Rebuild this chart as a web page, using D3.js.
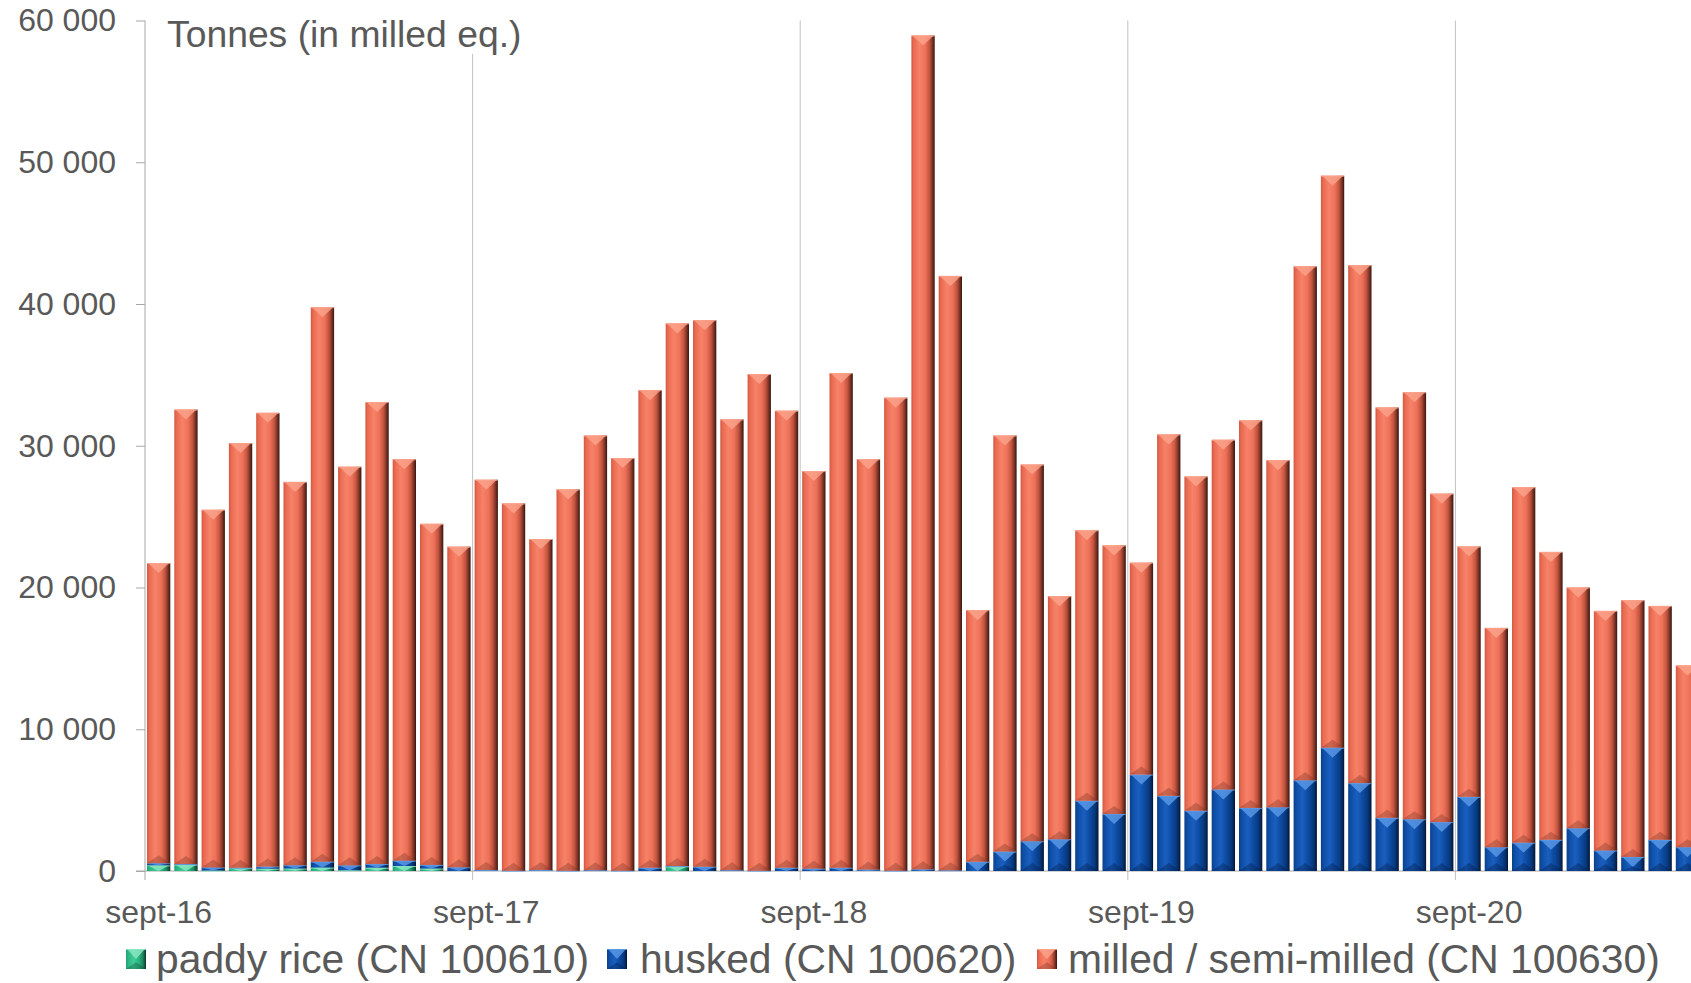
<!DOCTYPE html>
<html><head><meta charset="utf-8">
<script src="https://cdn.jsdelivr.net/npm/d3@7"></script>
<style>html,body{margin:0;padding:0;background:#fff;overflow:hidden}</style>
</head><body>
<svg id="chart" width="1691" height="983"></svg>
<script>
const months = [
  "sept-16","oct-16","nov-16","déc-16",
  "janv-17","févr-17","mars-17","avr-17","mai-17","juin-17","juil-17","août-17","sept-17","oct-17","nov-17","déc-17",
  "janv-18","févr-18","mars-18","avr-18","mai-18","juin-18","juil-18","août-18","sept-18","oct-18","nov-18","déc-18",
  "janv-19","févr-19","mars-19","avr-19","mai-19","juin-19","juil-19","août-19","sept-19","oct-19","nov-19","déc-19",
  "janv-20","févr-20","mars-20","avr-20","mai-20","juin-20","juil-20","août-20","sept-20","oct-20","nov-20","déc-20",
  "janv-21","févr-21","mars-21","avr-21","mai-21"
];
const tickLabels = ["sept-16","sept-17","sept-18","sept-19","sept-20"];
const yTicks = [0,10000,20000,30000,40000,50000,60000];

const paddy = [400,450,30,200,160,170,240,50,230,350,170,0,
  0,0,0,0,0,0,0,330,0,0,0,0,
  0,0,0,0,0,0,0,0,0,0,0,0,
  0,0,0,0,0,0,0,0,0,0,0,0,
  0,0,0,0,0,0,0,0,0];
const husked = [150,40,220,30,150,240,420,350,260,380,260,260,
  70,20,70,20,60,20,230,20,300,60,20,230,
  165,230,100,20,120,50,650,1370,2100,2240,4950,4020,
  6800,5300,4250,5750,4450,4500,6400,8700,6200,3750,3650,3450,
  5230,1680,2000,2200,3020,1450,990,2200,1680];
const milled = [21170,32060,25230,29960,32010,27040,39110,28120,32590,28320,24060,22620,
  27530,25910,23350,26900,30660,29110,33690,38280,38560,31800,35040,32240,
  28045,34900,28950,33370,58820,41930,17750,29350,26570,17150,19080,18950,
  14950,25500,23580,24670,27340,24480,36260,40350,36540,28950,30120,23170,
  17660,15470,25070,20310,16980,16900,18110,16500,12820];

const seriesKeys = ["paddy","husked","milled"];
const seriesNames = ["paddy rice (CN 100610)","husked (CN 100620)","milled / semi-milled (CN 100630)"];
const yTitle = "Tonnes (in milled eq.)";

const table = months.map((m,i)=>({month:m, paddy:paddy[i], husked:husked[i], milled:milled[i]}));

const svg = d3.select("#chart");
const W = 1691, H = 983;
const axisX = 145, baseY = 871, topY = 20.5;
const step = 27.3;
const x = d3.scaleBand().domain(months).range([axisX, axisX + step*months.length]).paddingInner(0.146).paddingOuter(0.073);
const y = d3.scaleLinear().domain([0,60000]).range([baseY, topY]);

const textCol = "#595959";
const font = "'Liberation Sans', Arial, sans-serif";

// gradients
const defs = svg.append("defs");
const pal = {
  milled: {stops:[[0,"#cf5842"],[0.1,"#ea6a51"],[0.35,"#f68268"],[0.6,"#ee7158"],[0.78,"#c0543f"],[0.9,"#7c3325"],[1,"#37160f"]], cap:"#fba48c", bot:"#7c3325"},
  husked: {stops:[[0,"#0a3f88"],[0.12,"#0e4ea6"],[0.38,"#1a5fbf"],[0.62,"#0d4ba2"],[0.82,"#083a80"],[0.93,"#05275a"],[1,"#021330"]], cap:"#5d9be8", bot:"#021a45"},
  paddy:  {stops:[[0,"#20a070"],[0.12,"#2bb683"],[0.38,"#40cc98"],[0.62,"#2bb683"],[0.82,"#1e8c63"],[0.93,"#125c41"],[1,"#083322"]], cap:"#8ee8c4", bot:"#0d4a33"}
};
seriesKeys.forEach(k=>{
  const g = defs.append("linearGradient").attr("id","g-"+k).attr("x1",0).attr("x2",1).attr("y1",0).attr("y2",0);
  pal[k].stops.forEach(s=>g.append("stop").attr("offset",s[0]).attr("stop-color",s[1]));
});

// y axis
const loc = d3.formatLocale({decimal:",", thousands:" ", grouping:[3], currency:["","€"]});
const fmt = loc.format(",");
const yAxis = svg.append("g").attr("transform",`translate(${axisX},0)`)
  .call(d3.axisLeft(y).tickValues(yTicks).tickSize(9).tickPadding(20).tickFormat(fmt));
yAxis.select(".domain").remove();
yAxis.selectAll(".tick line").attr("stroke","#a6a6a6");
yAxis.selectAll(".tick text").attr("fill",textCol).style("font-family",font).style("font-size","32px");
svg.append("line").attr("x1",axisX).attr("x2",axisX).attr("y1",topY).attr("y2",baseY+9).attr("stroke","#a6a6a6");

// vertical gridlines at September boundaries
const gap = (x.step()-x.bandwidth())/2;
svg.append("g").selectAll("line").data(tickLabels.slice(1)).join("line")
  .attr("x1",d=>x(d)-gap).attr("x2",d=>x(d)-gap)
  .attr("y1",topY).attr("y2",baseY+9)
  .attr("stroke","#c0c0c0").attr("stroke-width",1);

// x axis labels
const xAxis = svg.append("g").attr("transform",`translate(0,${baseY})`)
  .call(d3.axisBottom(x).tickValues(tickLabels).tickSize(0).tickPadding(52));
xAxis.select(".domain").remove();
xAxis.selectAll(".tick text").attr("fill",textCol).style("font-family",font).style("font-size","32px").attr("dy",0);
svg.append("line").attr("x1",axisX-9).attr("x2",W).attr("y1",baseY).attr("y2",baseY).attr("stroke","#a6a6a6");

// title
svg.append("rect").attr("x",158).attr("y",0).attr("width",380).attr("height",54).attr("fill","#fff");
svg.append("text").attr("x",167).attr("y",47).text(yTitle)
  .attr("fill",textCol).style("font-family",font).style("font-size","37.3px");

// bars
const stacked = d3.stack().keys(seriesKeys)(table);
function drawSeg(g, k, x0, w, yTop, h){
  if (h <= 0) return;
  g.append("rect").attr("x",x0).attr("y",yTop).attr("width",w).attr("height",h).attr("fill",`url(#g-${k})`);
  const ch = Math.min(10, h);
  g.append("polygon").attr("points",`${x0+1},${yTop} ${x0+w-1},${yTop} ${x0+w/2},${yTop+ch}`)
    .attr("fill",pal[k].cap).attr("opacity",0.8);
  g.append("line").attr("x1",x0).attr("x2",x0+w).attr("y1",yTop+0.5).attr("y2",yTop+0.5)
    .attr("stroke",pal[k].cap).attr("stroke-width",1).attr("opacity",0.8);
  if (h > 14) {
    const bh = Math.min(8, h/3);
    g.append("polygon").attr("points",`${x0},${yTop+h} ${x0+w},${yTop+h} ${x0+w/2},${yTop+h-bh}`)
      .attr("fill",pal[k].bot).attr("opacity",0.35);
  }
}
const barsG = svg.append("g");
stacked.forEach(layer=>{
  const k = layer.key;
  const g = barsG.append("g").attr("class","series-"+k);
  layer.forEach(d=>{
    const x0 = x(d.data.month), w = x.bandwidth();
    const yTop = y(d[1]), h = y(d[0]) - y(d[1]);
    drawSeg(g, k, x0, w, yTop, h);
  });
});

// legend
const legendPos = [[126,156],[607,640],[1037,1068]];
const lg = svg.append("g");
seriesKeys.forEach((k,i)=>{
  const [mx, tx] = legendPos[i];
  drawSeg(lg, k, mx, 20, 949, 20);
  lg.append("text").attr("x",tx).attr("y",973).text(seriesNames[i])
    .attr("fill",textCol).style("font-family",font).style("font-size","40.8px");
});
</script>
</body></html>
